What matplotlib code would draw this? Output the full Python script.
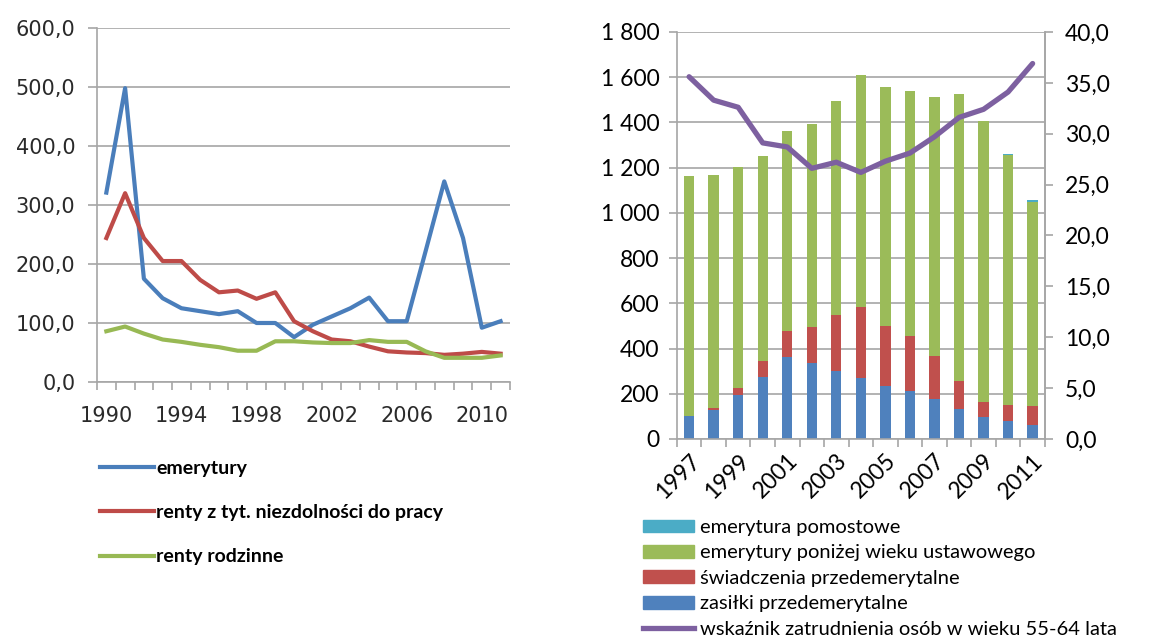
import matplotlib.pyplot as plt
import numpy as np
from matplotlib.patches import Patch
from matplotlib.lines import Line2D

plt.rcParams['font.family'] = ['Lato', 'DejaVu Sans']

# ---- left chart data ----
years_l = list(range(1990, 2012))
emerytury = [321, 498, 175, 142, 125, 120, 115, 120, 100, 100, 76,
             97, 111, 125, 143, 103, 103, 221, 340, 244, 92, 103]
renty_niezdolnosc = [244, 320, 244, 205, 205, 173, 152, 155, 141, 152, 103,
                     86, 72, 69, 60, 52, 50, 49, 46, 48, 51, 48]
renty_rodzinne = [86, 94, 82, 72, 68, 63, 59, 53, 53, 69, 69,
                  67, 66, 66, 71, 68, 68, 52, 41, 41, 41, 45]

# ---- right chart data ----
years_r = list(range(1997, 2012))
zasilki = [103, 130, 193, 272, 363, 334, 300, 270, 235, 213, 176, 134, 99, 78, 61]
swiadczenia = [0, 7, 34, 71, 116, 162, 247, 312, 266, 242, 192, 122, 65, 73, 87]
emerytury_ponizej = [1058, 1031, 978, 910, 884, 898, 949, 1027, 1054, 1084,
                     1146, 1270, 1241, 1106, 902]
pomostowe = [0, 0, 0, 0, 0, 0, 0, 0, 0, 0, 0, 0, 0, 5, 8]
wskaznik = [35.6, 33.3, 32.6, 29.1, 28.7, 26.6, 27.2, 26.2, 27.3, 28.1,
            29.7, 31.6, 32.4, 34.1, 36.9]

c_blue, c_red, c_green = '#4a7ebb', '#be4b48', '#98b954'
b_blue, b_red, b_green, b_teal = '#4f81bd', '#c0504d', '#9bbb59', '#4bacc6'
c_purple = '#7d60a0'
grid_c = '#a6a6a6'
txt_c = '#2a2a2a'

fig = plt.figure(figsize=(11.71, 6.42), dpi=100)

# ======== left chart ========
ax = fig.add_axes([0.0828, 0.405, 0.3527, 0.5514])
x = np.arange(len(years_l))
ax.plot(x, emerytury, color=c_blue, lw=3, label='emerytury')
ax.plot(x, renty_niezdolnosc, color=c_red, lw=3, label='renty z tyt. niezdolności do pracy')
ax.plot(x, renty_rodzinne, color=c_green, lw=3, label='renty rodzinne')
ax.set_xlim(-0.5, len(years_l) - 0.5)
ax.set_ylim(0, 600)
ax.set_yticks(range(0, 601, 100))
ax.set_yticklabels([f'{v},0' for v in range(0, 601, 100)], family='DejaVu Sans')
ax.set_xticks(x[::4])
ax.set_xticklabels([str(y) for y in years_l[::4]], family='DejaVu Sans')
ax.set_xticks(np.arange(-0.5, len(years_l), 1), minor=True)
ax.tick_params(axis='x', which='major', length=0, pad=17, labelsize=15, labelcolor=txt_c)
ax.tick_params(axis='x', which='minor', length=6, color=grid_c, width=1.2)
ax.tick_params(axis='y', length=6.5, color=grid_c, width=1.2, labelsize=15, labelcolor=txt_c, pad=9)
ax.grid(axis='y', color=grid_c, lw=1.2)
ax.set_axisbelow(True)
for s in ['top', 'right']:
    ax.spines[s].set_visible(False)
for s in ['left', 'bottom']:
    ax.spines[s].set_color(grid_c)
    ax.spines[s].set_linewidth(1.2)
ax.legend(loc='upper left', bbox_to_anchor=(100 / 1171, 1 - 460 / 642),
          bbox_transform=fig.transFigure, frameon=False,
          handlelength=2.8, handletextpad=0.1, labelspacing=1.4,
          borderaxespad=0, borderpad=0, prop={'weight': 'bold', 'size': 14})

# ======== right chart ========
ax1 = fig.add_axes([0.578, 0.3162, 0.3143, 0.634])
xr = np.arange(len(years_r))
w = 0.42
bot = np.zeros(len(years_r))
ax1.bar(xr, zasilki, w, bottom=bot, color=b_blue)
bot += zasilki
ax1.bar(xr, swiadczenia, w, bottom=bot, color=b_red)
bot += swiadczenia
ax1.bar(xr, emerytury_ponizej, w, bottom=bot, color=b_green)
bot += emerytury_ponizej
ax1.bar(xr, pomostowe, w, bottom=bot, color=b_teal)
ax1.set_xlim(-0.5, len(years_r) - 0.5)
ax1.set_ylim(0, 1800)
ax1.set_yticks(range(0, 1801, 200))
ax1.set_yticklabels([f'{v:,}'.replace(',', ' ') for v in range(0, 1801, 200)])
ax1.set_xticks(xr[::2])
ax1.set_xticklabels([str(y) for y in years_r[::2]], rotation=45, ha='right',
                    rotation_mode='anchor')
ax1.set_xticks(np.arange(-0.5, len(years_r), 1), minor=True)
ax1.tick_params(axis='x', which='major', length=0, pad=8, labelsize=16.5, labelcolor='black')
ax1.tick_params(axis='x', which='minor', length=6, color=grid_c, width=1.2)
ax1.tick_params(axis='y', length=5.5, color=grid_c, width=1.2, labelsize=16.5,
                labelcolor='black', pad=7)
ax1.grid(axis='y', color=grid_c, lw=1.2)
ax1.set_axisbelow(True)
for s in ax1.spines.values():
    s.set_color(grid_c)
    s.set_linewidth(1.2)
ax1.spines['top'].set_visible(False)

ax2 = ax1.twinx()
ax2.plot(xr, wskaznik, color=c_purple, lw=3.8, solid_capstyle='round')
ax2.set_ylim(0, 40)
ax2.set_yticks(range(0, 41, 5))
ax2.set_yticklabels([f'{v},0' for v in range(0, 41, 5)])
ax2.tick_params(axis='y', length=5.5, color=grid_c, width=1.2, labelsize=16.5,
                labelcolor='black', pad=9)
for s in ax2.spines.values():
    s.set_visible(False)
ax2.spines['right'].set_visible(True)
ax2.spines['right'].set_color(grid_c)
ax2.spines['right'].set_linewidth(1.2)

handles = [Patch(color=b_teal), Patch(color=b_green), Patch(color=b_red),
           Patch(color=b_blue), Line2D([], [], color=c_purple, lw=3.8)]
labels = ['emerytura pomostowe', 'emerytury poniżej wieku ustawowego',
          'świadczenia przedemerytalne', 'zasiłki przedemerytalne',
          'wskaźnik zatrudnienia osób w wieku 55-64 lata']
fig.legend(handles, labels, loc='upper left', bbox_to_anchor=(643 / 1171, 1 - 519 / 642),
           frameon=False, fontsize=14.5, handlelength=2.55, handleheight=0.6,
           handletextpad=0.3, labelspacing=0.42, borderaxespad=0, borderpad=0)

fig.savefig('out.png', dpi=100)
